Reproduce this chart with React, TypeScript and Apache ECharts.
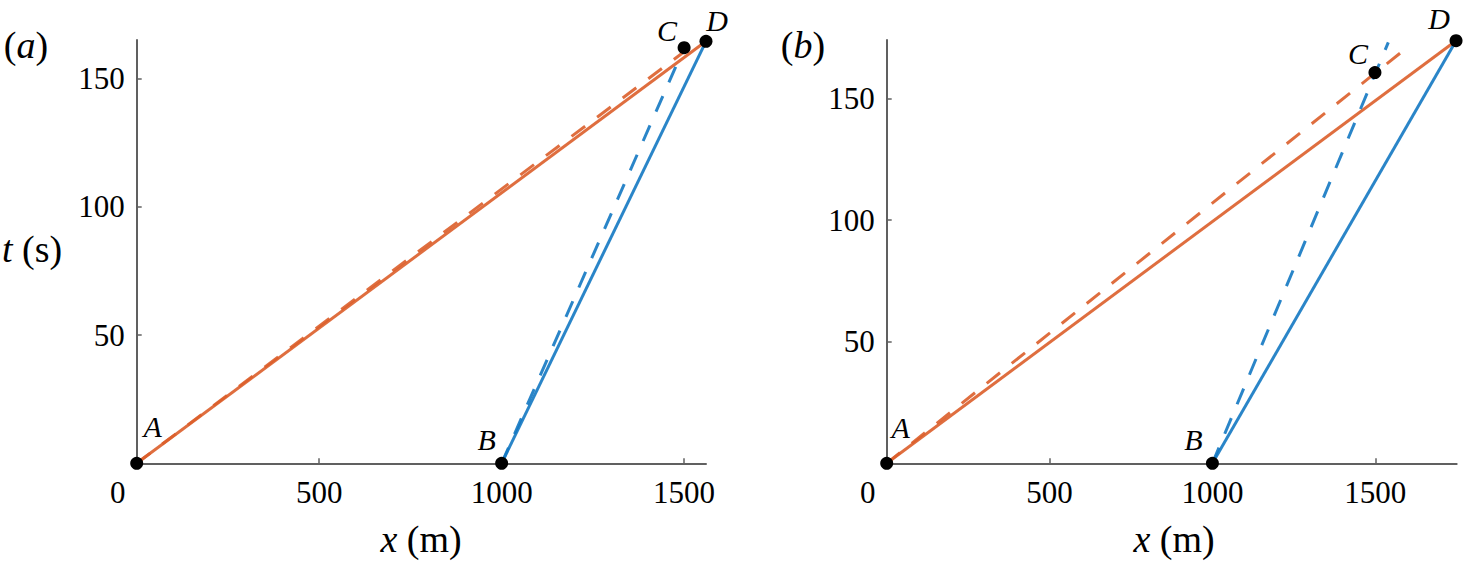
import React, { useEffect, useRef } from "react";
import * as echarts from "echarts";

// ---- data ----
const X_TICKS = [0, 500, 1000, 1500];
const Y_TICKS = [50, 100, 150];

// panel (a)
const A_X_MAX = 1560;
const A_T_MAX = 165;
const aOrangeSolid = [[0, 0], [1560, 164.5]];
const aOrangeDashed = [[0, 0], [1515, 162]];
const aBlueSolid = [[1000, 0], [1560, 164.5]];
const aBlueDashed = [[1000, 0], [1500, 162]];
const aPoints: [string, number, number][] = [
  ["A", 0, 0],
  ["B", 1000, 0],
  ["C", 1500, 162],
  ["D", 1560, 164.5],
];

// panel (b)
const B_X_MAX = 1750;
const B_T_MAX = 174;
const bOrangeSolid = [[0, 0], [1748, 173.7]];
const bOrangeDashed = [[0, 0], [1580, 169]];
const bBlueSolid = [[1000, 0], [1748, 173.7]];
const bBlueDashed = [[1000, 0], [1540, 173]];
const bPoints: [string, number, number][] = [
  ["A", 0, 0],
  ["B", 1000, 0],
  ["C", 1499, 160.6],
  ["D", 1748, 173.7],
];

// ---- styling ----
const ORANGE = "#DC5E2A";
const BLUE = "#1378C2";
const AXIS = "#606060";
const SERIF = "Liberation Serif";
const DASH = [17, 15];

const OFFSETS_A: Record<string, number[]> = {
  A: [16, -37],
  B: [-15, -24],
  C: [-17, -17],
  D: [11, -21],
};
const OFFSETS_B: Record<string, number[]> = {
  A: [14, -36],
  B: [-19, -24],
  C: [-17, -19],
  D: [-17, -22],
};

function xAxisCfg(gridIndex: number, max: number) {
  return {
    type: "value",
    gridIndex,
    min: 0,
    max,
    axisLine: { show: true, onZero: false, lineStyle: { color: AXIS, width: 2 } },
    axisTick: {
      show: true,
      inside: true,
      length: 5,
      customValues: X_TICKS,
      lineStyle: { color: AXIS, width: 1.5 },
    },
    axisLabel: {
      customValues: X_TICKS,
      margin: 14,
      fontSize: 31,
      fontFamily: SERIF,
      color: "#000",
      formatter: (v: number) => (v === 0 ? "{z|0}" : String(v)),
      rich: {
        z: { padding: [0, 38, 0, 0], fontSize: 31, fontFamily: SERIF, color: "#000" },
      },
    },
    splitLine: { show: false },
  };
}

function yAxisCfg(gridIndex: number, max: number) {
  return {
    type: "value",
    gridIndex,
    min: 0,
    max,
    axisLine: { show: true, onZero: false, lineStyle: { color: AXIS, width: 2 } },
    axisTick: {
      show: true,
      inside: true,
      length: 5,
      customValues: Y_TICKS,
      lineStyle: { color: AXIS, width: 1.5 },
    },
    axisLabel: {
      customValues: Y_TICKS,
      margin: 12,
      fontSize: 31,
      fontFamily: SERIF,
      color: "#000",
    },
    splitLine: { show: false },
  };
}

function lineSeries(idx: number, data: number[][], color: string, dashed: boolean) {
  return {
    type: "line",
    xAxisIndex: idx,
    yAxisIndex: idx,
    data,
    showSymbol: false,
    symbol: "none",
    clip: false,
    lineStyle: { color, width: 3, type: dashed ? DASH : "solid", opacity: 0.9 },
    z: 2,
  };
}

function pointSeries(idx: number, pts: [string, number, number][], offsets: Record<string, number[]>) {
  return {
    type: "scatter",
    xAxisIndex: idx,
    yAxisIndex: idx,
    symbolSize: 13,
    clip: false,
    itemStyle: { color: "#000", opacity: 1 },
    z: 5,
    label: {
      show: true,
      position: "inside",
      formatter: "{b}",
      fontFamily: SERIF,
      fontStyle: "italic",
      fontSize: 30,
      color: "#000",
      textBorderWidth: 0,
    },
    data: pts.map((p) => ({
      name: p[0],
      value: [p[1], p[2]],
      label: { offset: offsets[p[0]] },
    })),
  };
}

function titleText(text: string, x: number, y: number, size: number) {
  return {
    type: "text",
    x,
    y,
    style: {
      text,
      fontSize: size,
      fontFamily: SERIF,
      fill: "#000",
      align: "center",
      verticalAlign: "middle",
      rich: {
        i: { fontStyle: "italic", fontSize: size, fontFamily: SERIF, fill: "#000" },
      },
    },
  };
}

export default function App() {
  const ref = useRef<HTMLDivElement>(null);

  useEffect(() => {
    if (!ref.current) return;
    const chart = echarts.init(ref.current, null, { renderer: "svg" });
    chart.setOption({
      animation: false,
      backgroundColor: "#fff",
      grid: [
        { left: 136.7, top: 40, width: 569.3, height: 423.3 },
        { left: 886.7, top: 40, width: 570, height: 423.3 },
      ],
      xAxis: [xAxisCfg(0, A_X_MAX), xAxisCfg(1, B_X_MAX)],
      yAxis: [yAxisCfg(0, A_T_MAX), yAxisCfg(1, B_T_MAX)],
      series: [
        lineSeries(0, aOrangeDashed, ORANGE, true),
        lineSeries(0, aOrangeSolid, ORANGE, false),
        lineSeries(0, aBlueDashed, BLUE, true),
        lineSeries(0, aBlueSolid, BLUE, false),
        pointSeries(0, aPoints, OFFSETS_A),
        lineSeries(1, bOrangeDashed, ORANGE, true),
        lineSeries(1, bOrangeSolid, ORANGE, false),
        lineSeries(1, bBlueDashed, BLUE, true),
        lineSeries(1, bBlueSolid, BLUE, false),
        pointSeries(1, bPoints, OFFSETS_B),
      ],
      graphic: [
        titleText("({i|a})", 26, 45, 38),
        titleText("({i|b})", 803, 45, 38),
        titleText("{i|t} (s)", 32, 249, 38),
        titleText("{i|x} (m)", 421, 539, 38),
        titleText("{i|x} (m)", 1174, 539, 38),
      ],
    });
    return () => chart.dispose();
  }, []);

  return (
    <div
      ref={ref}
      style={{ position: "fixed", left: 0, top: 0, width: 1467, height: 561, background: "#fff" }}
    />
  );
}
